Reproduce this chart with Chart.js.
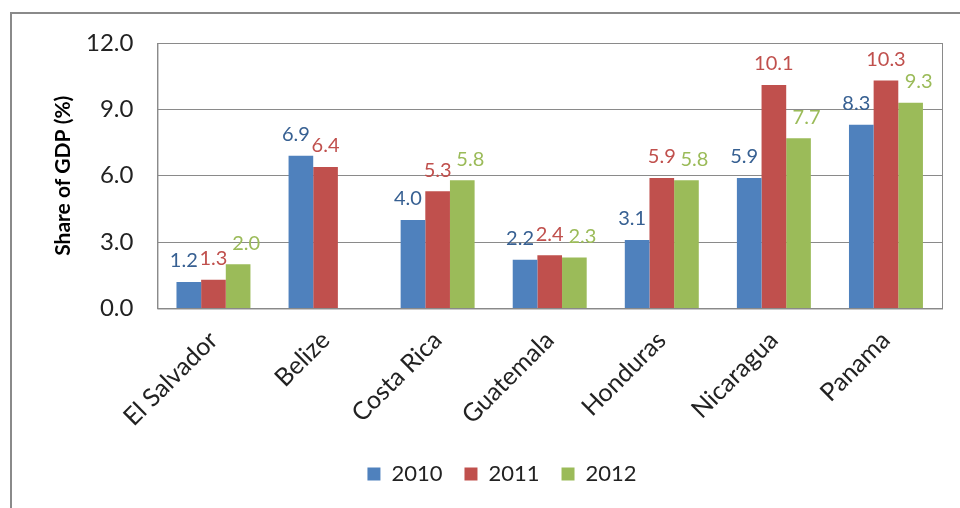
<!DOCTYPE html>
<html>
<head>
<meta charset="utf-8">
<script src="https://cdn.jsdelivr.net/npm/chart.js@4.4.0/dist/chart.umd.min.js"></script>
<style>
  html, body { margin: 0; padding: 0; background: #fff; }
  #wrap { position: relative; width: 960px; height: 508px; }
</style>
</head>
<body>
<div id="wrap"><canvas id="gdpChart"></canvas></div>
<script>
// data
var countries = ['El Salvador', 'Belize', 'Costa Rica', 'Guatemala', 'Honduras', 'Nicaragua', 'Panama'];
var years = ['2010', '2011', '2012'];
var y2010 = [1.2, 6.9, 4.0, 2.2, 3.1, 5.9, 8.3];
var y2011 = [1.3, 6.4, 5.3, 2.4, 5.9, 10.1, 10.3];
var y2012 = [2.0, null, 5.8, 2.3, 5.8, 7.7, 9.3];
var yTicks = [0, 3, 6, 9, 12];
var yTitle = 'Share of GDP (%)';

var barColors = ['#4F81BD', '#C0504D', '#9BBB59'];
var labelColors = ['#376092', '#C0504D', '#9BBB59'];
var labelShift = [-5, 0, 8];
var font = 'Lato, "Open Sans", sans-serif';

// outer frame, plot box and the y title
var framePlugin = {
    id: 'frame',
    beforeDraw: function(chart) {
        var c = chart.ctx;
        c.save();
        c.strokeStyle = '#8a8a8a';
        c.lineWidth = 2;
        c.beginPath();
        c.moveTo(11, 520);
        c.lineTo(11, 13);
        c.lineTo(970, 13);
        c.stroke();
        c.restore();
    },
    afterDatasetsDraw: function(chart) {
        var a = chart.chartArea, c = chart.ctx;
        c.save();
        c.strokeStyle = '#8a8a8a';
        c.lineWidth = 1;
        c.strokeRect(a.left + 0.5, a.top + 0.5, a.right - a.left, a.bottom - a.top);
        // rotated axis title
        c.translate(63, (a.top + a.bottom) / 2);
        c.rotate(-Math.PI / 2);
        c.fillStyle = '#000';
        c.font = 'bold 21px ' + font;
        c.textAlign = 'center';
        c.textBaseline = 'middle';
        c.fillText(yTitle, 0, 0);
        c.restore();
    }
};

// value labels above bars
var valuePlugin = {
    id: 'values',
    afterDatasetsDraw: function(chart) {
        var c = chart.ctx;
        c.save();
        c.font = '20px ' + font;
        c.textAlign = 'center';
        c.textBaseline = 'bottom';
        chart.data.datasets.forEach(function(ds, i) {
            var meta = chart.getDatasetMeta(i);
            meta.data.forEach(function(bar, j) {
                var v = ds.data[j];
                if (v === null) return;
                c.fillStyle = labelColors[i];
                c.fillText(v.toFixed(1), bar.x + labelShift[i], bar.y - 11);
            });
        });
        c.restore();
    }
};

var ctx = document.getElementById('gdpChart').getContext('2d');
var chart = new Chart(ctx, {
    type: 'bar',
    data: {
        labels: countries,
        datasets: [
            { label: years[0], data: y2010, backgroundColor: barColors[0] },
            { label: years[1], data: y2011, backgroundColor: barColors[1] },
            { label: years[2], data: y2012, backgroundColor: barColors[2] }
        ]
    },
    options: {
        responsive: true,
        maintainAspectRatio: false,
        animation: false,
        layout: { padding: { left: 62, top: 43, right: 18, bottom: 13 } },
        datasets: { bar: { categoryPercentage: 0.66, barPercentage: 1.0 } },
        plugins: {
            legend: {
                position: 'bottom',
                labels: {
                    boxWidth: 13,
                    boxHeight: 13,
                    padding: 22,
                    color: '#222',
                    font: { family: font, size: 22 }
                }
            },
            tooltip: { enabled: false }
        },
        scales: {
            x: {
                grid: { display: false },
                border: { display: true, color: '#8a8a8a' },
                ticks: {
                    minRotation: 45,
                    maxRotation: 45,
                    color: '#222',
                    padding: 9,
                    font: { family: font, size: 25 }
                }
            },
            y: {
                min: 0,
                max: 12,
                afterBuildTicks: function(axis) {
                    axis.ticks = yTicks.map(function(v) { return { value: v }; });
                },
                grid: { color: '#8a8a8a', drawTicks: false },
                border: { display: true, color: '#8a8a8a' },
                ticks: {
                    padding: 24,
                    color: '#222',
                    font: { family: font, size: 24 },
                    callback: function(v) { return v.toFixed(1); }
                }
            }
        }
    },
    plugins: [framePlugin, valuePlugin]
});
</script>
</body>
</html>
